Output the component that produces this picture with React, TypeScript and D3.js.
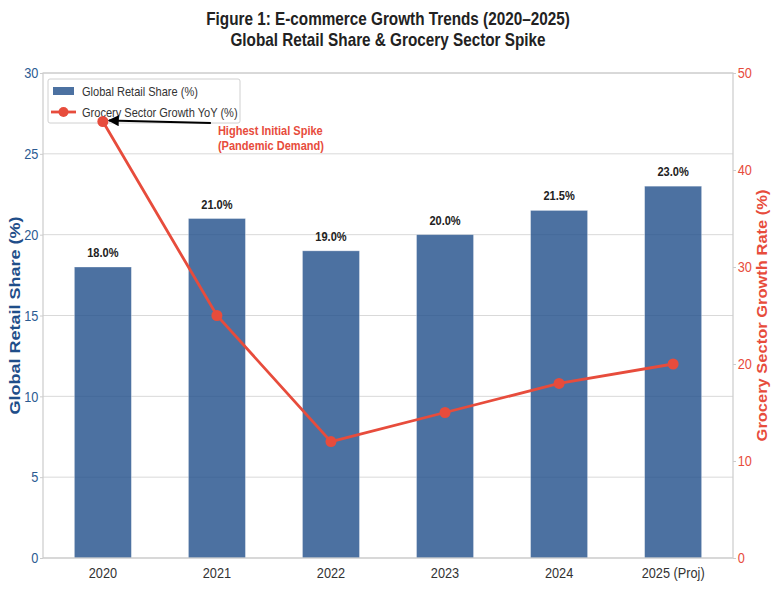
import { useEffect, useRef } from 'react'
import * as d3 from 'd3'

const years = ['2020', '2021', '2022', '2023', '2024', '2025 (Proj)']
const retailShare = [18.0, 21.0, 19.0, 20.0, 21.5, 23.0]
const groceryGrowth = [45, 25, 12, 15, 18, 20]
const leftTicks = [0, 5, 10, 15, 20, 25, 30]
const rightTicks = [0, 10, 20, 30, 40, 50]

const FONT = "'Liberation Sans', Arial, sans-serif"
const SQ = 0.85 // the text in the source is squeezed horizontally
const BLUE = '#1f4e89'
const RED = '#e74c3c'

export default function App() {
  const svgRef = useRef<SVGSVGElement>(null)

  useEffect(() => {
    if (!svgRef.current) return
    const svg = d3.select(svgRef.current)
    svg.selectAll('*').remove()

    const width = 776
    const height = 589
    const margin = { top: 73, right: 43, bottom: 31, left: 43 }
    const innerWidth = width - margin.left - margin.right
    const innerHeight = height - margin.top - margin.bottom

    // group at (x,y) with narrowed text inside
    const narrow = (parent: any, x: number, y: number, rot = 0) =>
      parent.append('g').attr('transform', `translate(${x},${y}) scale(${SQ},1) rotate(${rot})`)

    svg.append('rect').attr('width', width).attr('height', height).attr('fill', '#fff')

    const g = svg.append('g').attr('transform', `translate(${margin.left},${margin.top})`)

    const x = d3.scaleBand().domain(years).range([0, innerWidth]).paddingInner(0.5).paddingOuter(0.275)
    const yL = d3.scaleLinear().domain([0, 30]).range([innerHeight, 0])
    const yR = d3.scaleLinear().domain([0, 50]).range([innerHeight, 0])
    const cx = (d: string) => (x(d) || 0) + x.bandwidth() / 2

    // grid
    g.append('g')
      .selectAll('line')
      .data(leftTicks)
      .enter()
      .append('line')
      .attr('x1', 0)
      .attr('x2', innerWidth)
      .attr('y1', (d) => yL(d))
      .attr('y2', (d) => yL(d))
      .attr('stroke', '#d9d9d9')
      .attr('stroke-width', 1)

    // bars
    g.selectAll('.bar')
      .data(years)
      .enter()
      .append('rect')
      .attr('class', 'bar')
      .attr('x', (d) => x(d) || 0)
      .attr('width', x.bandwidth())
      .attr('y', (_, i) => yL(retailShare[i]))
      .attr('height', (_, i) => innerHeight - yL(retailShare[i]))
      .attr('fill', BLUE)
      .attr('fill-opacity', 0.8)
      .attr('stroke', '#fff')
      .attr('stroke-opacity', 0.4)
      .attr('stroke-width', 0.8)

    years.forEach((d, i) => {
      narrow(g, cx(d), yL(retailShare[i]) - 10)
        .append('text')
        .attr('text-anchor', 'middle')
        .attr('font-family', FONT)
        .attr('font-weight', 'bold')
        .attr('font-size', '13px')
        .attr('fill', '#222')
        .text(`${retailShare[i].toFixed(1)}%`)
    })

    // frame
    g.append('rect')
      .attr('width', innerWidth)
      .attr('height', innerHeight)
      .attr('fill', 'none')
      .attr('stroke', '#cccccc')
      .attr('stroke-width', 1.2)

    // axes
    const axisL = g.append('g').call(d3.axisLeft(yL).tickValues(leftTicks).tickSize(3).tickPadding(2.5))
    axisL.select('.domain').remove()
    axisL.selectAll('line').attr('stroke', '#cccccc')
    axisL
      .selectAll('text')
      .attr('fill', '#2b5b92')
      .attr('font-family', FONT)
      .attr('font-size', '15px')
      .attr('transform', `scale(${SQ},1)`)

    const axisR = g
      .append('g')
      .attr('transform', `translate(${innerWidth},0)`)
      .call(d3.axisRight(yR).tickValues(rightTicks).tickSize(3).tickPadding(2.5))
    axisR.select('.domain').remove()
    axisR.selectAll('line').attr('stroke', '#cccccc')
    axisR
      .selectAll('text')
      .attr('fill', RED)
      .attr('font-family', FONT)
      .attr('font-size', '15px')
      .attr('transform', `scale(${SQ},1)`)

    const axisB = g
      .append('g')
      .attr('transform', `translate(0,${innerHeight})`)
      .call(d3.axisBottom(x).tickSize(0).tickPadding(9))
    axisB.select('.domain').remove()
    axisB
      .selectAll('text')
      .attr('fill', '#333')
      .attr('font-family', FONT)
      .attr('font-size', '15px')
      .attr('transform', `scale(${SQ},1)`)

    // axis titles
    narrow(svg, 20, margin.top + innerHeight / 2, -90)
      .append('text')
      .attr('text-anchor', 'middle')
      .attr('font-family', FONT)
      .attr('font-weight', 'bold')
      .attr('font-size', '18px')
      .attr('fill', BLUE)
      .text('Global Retail Share (%)')

    narrow(svg, 767, margin.top + innerHeight / 2, -90)
      .append('text')
      .attr('text-anchor', 'middle')
      .attr('font-family', FONT)
      .attr('font-weight', 'bold')
      .attr('font-size', '16.5px')
      .attr('fill', RED)
      .text('Grocery Sector Growth Rate (%)')

    // title
    const titleLines = ['Figure 1: E-commerce Growth Trends (2020–2025)', 'Global Retail Share & Grocery Sector Spike']
    titleLines.forEach((t, i) => {
      narrow(svg, width / 2, 25 + i * 21)
        .append('text')
        .attr('text-anchor', 'middle')
        .attr('font-family', FONT)
        .attr('font-weight', 'bold')
        .attr('font-size', '18px')
        .attr('fill', '#222')
        .text(t)
    })

    // legend (drawn under the line axis, as in the source)
    const lg = g.append('g').attr('transform', 'translate(5,6)')
    lg.append('rect')
      .attr('width', 192)
      .attr('height', 44)
      .attr('rx', 2)
      .attr('fill', '#fff')
      .attr('fill-opacity', 0.9)
      .attr('stroke', '#d0d0d0')
    lg.append('rect').attr('x', 5).attr('y', 8).attr('width', 21).attr('height', 8).attr('fill', BLUE).attr('fill-opacity', 0.8)
    lg.append('line').attr('x1', 3).attr('x2', 28).attr('y1', 33).attr('y2', 33).attr('stroke', RED).attr('stroke-width', 2.8)
    lg.append('circle').attr('cx', 15.5).attr('cy', 33).attr('r', 5).attr('fill', RED)
    const legendLabels = ['Global Retail Share (%)', 'Grocery Sector Growth YoY (%)']
    legendLabels.forEach((t, i) => {
      narrow(lg, 34, 17 + i * 21)
        .append('text')
        .attr('font-family', FONT)
        .attr('font-size', '13px')
        .attr('fill', '#333')
        .text(t)
    })

    // line
    const line = d3
      .line<number>()
      .x((_, i) => cx(years[i]))
      .y((d) => yR(d))

    g.append('path')
      .datum(groceryGrowth)
      .attr('d', line)
      .attr('fill', 'none')
      .attr('stroke', RED)
      .attr('stroke-width', 2.8)

    g.selectAll('.dot')
      .data(groceryGrowth)
      .enter()
      .append('circle')
      .attr('cx', (_, i) => cx(years[i]))
      .attr('cy', (d) => yR(d))
      .attr('r', 5.5)
      .attr('fill', RED)

    // annotation
    const px = cx(years[0])
    const py = yR(groceryGrowth[0])
    const defs = svg.append('defs')
    defs
      .append('marker')
      .attr('id', 'arrowhead')
      .attr('viewBox', '0 0 10 10')
      .attr('refX', 9)
      .attr('refY', 5)
      .attr('markerWidth', 5)
      .attr('markerHeight', 5)
      .attr('orient', 'auto')
      .append('path')
      .attr('d', 'M0,0 L10,5 L0,10 z')
      .attr('fill', '#000')

    g.append('line')
      .attr('x1', px + 108)
      .attr('y1', py + 1.5)
      .attr('x2', px + 6)
      .attr('y2', py - 1)
      .attr('stroke', '#000')
      .attr('stroke-width', 2.2)
      .attr('marker-end', 'url(#arrowhead)')

    const annLines = ['Highest Initial Spike', '(Pandemic Demand)']
    annLines.forEach((t, i) => {
      narrow(g, px + 115, py + 13 + i * 15)
        .append('text')
        .attr('font-family', FONT)
        .attr('font-weight', 'bold')
        .attr('font-size', '13px')
        .attr('fill', RED)
        .text(t)
    })
  }, [])

  return (
    <svg
      ref={svgRef}
      width={776}
      height={589}
      viewBox="0 0 776 589"
      style={{ position: 'absolute', left: 0, top: 0 }}
    />
  )
}
